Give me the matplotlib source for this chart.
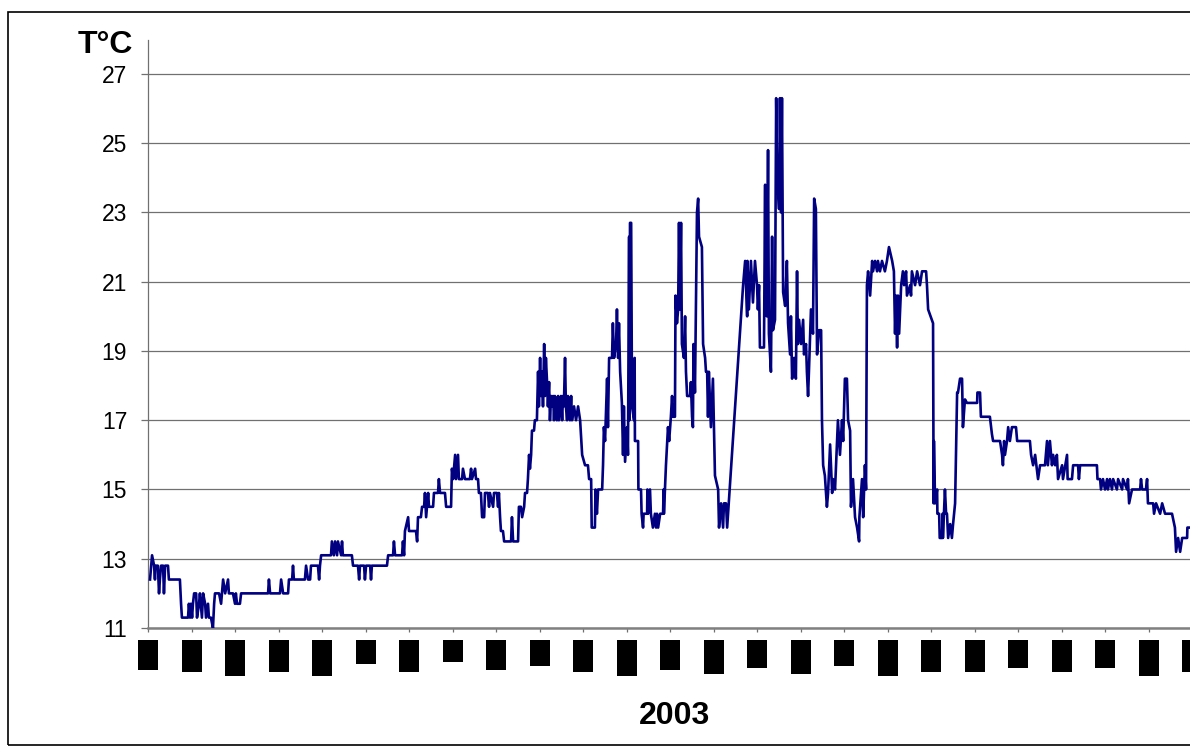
import matplotlib.pyplot as plt
from matplotlib.patches import Rectangle

plt.rcParams["font.family"] = ["Liberation Sans", "DejaVu Sans"]

# hourly-ish readings through 2003, x in days from the first tick
days = [
    0.7, 1.4, 2.1, 2.4, 2.6, 3.4, 3.8, 4.1, 4.5, 5.2,
    5.5, 5.9, 6.9, 7.2, 11.0, 11.4, 11.7, 13.8, 14.1, 14.5,
    14.8, 15.2, 15.5, 15.9, 16.6, 16.9, 17.6, 17.9, 18.6, 19.0,
    19.7, 20.0, 20.7, 21.0, 21.7, 22.4, 22.8, 23.1, 24.5, 25.2,
    25.5, 25.9, 26.6, 27.6, 27.9, 29.3, 30.0, 30.3, 30.7, 31.7,
    32.1, 41.4, 41.7, 42.1, 45.5, 45.9, 46.6, 48.3, 48.6, 49.7,
    50.0, 50.3, 54.1, 54.5, 55.2, 55.9, 56.2, 58.6, 59.0, 59.3,
    59.7, 63.1, 63.4, 64.1, 64.5, 65.2, 65.5, 66.6, 66.9, 67.2,
    70.3, 70.7, 72.4, 72.8, 73.1, 74.5, 74.8, 75.2, 76.6, 76.9,
    77.2, 82.4, 82.8, 84.5, 84.8, 85.2, 87.6, 87.9, 88.3, 88.6,
    89.7, 90.0, 92.4, 92.8, 93.1, 94.1, 94.5, 95.2, 95.5, 95.9,
    96.2, 96.6, 96.9, 98.3, 98.6, 100.0, 100.3, 100.7, 102.4, 102.8,
    104.5, 104.8, 105.2, 105.9, 106.2, 106.9, 107.2, 108.3, 108.6, 109.3,
    111.0, 111.4, 111.7, 112.8, 113.1, 113.8, 114.1, 114.8, 115.2, 115.9,
    116.2, 117.2, 117.6, 117.9, 119.0, 119.3, 120.3, 120.7, 121.0, 121.4,
    121.7, 122.4, 122.8, 125.2, 125.5, 125.9, 127.6, 127.9, 128.6, 129.0,
    129.7, 130.0, 130.7, 131.0, 131.4, 131.7, 132.1, 132.4, 133.1, 133.4,
    134.1, 134.5, 134.8, 135.2, 135.5, 135.9, 136.2, 136.6, 136.9, 137.2,
    137.6, 137.9, 138.3, 138.6, 139.0, 139.3, 139.7, 140.0, 140.3, 140.7,
    141.0, 141.4, 141.7, 142.1, 142.4, 142.8, 143.1, 143.4, 143.8, 144.1,
    144.5, 144.8, 145.2, 145.5, 145.9, 146.2, 146.9, 147.6, 148.3, 149.0,
    149.7, 150.7, 151.7, 152.1, 152.8, 153.0, 154.1, 154.3, 154.8, 155.2,
    156.6, 156.9, 157.2, 157.6, 158.3, 158.6, 159.0, 160.0, 160.3, 160.7,
    161.4, 161.7, 162.1, 162.4, 162.8, 163.4, 163.8, 164.1, 164.5, 165.2,
    165.5, 165.9, 166.0, 166.2, 166.6, 166.9, 167.6, 167.8, 167.9, 169.0,
    169.1, 170.0, 170.2, 170.7, 170.9, 172.1, 172.2, 172.4, 173.1, 173.4,
    174.1, 174.8, 175.2, 175.5, 175.9, 176.6, 177.6, 177.8, 177.9, 178.6,
    179.3, 179.7, 180.3, 180.7, 181.0, 181.7, 181.9, 182.4, 182.8, 183.1,
    183.4, 183.8, 184.1, 184.8, 185.2, 185.5, 185.9, 186.9, 187.2, 187.6,
    187.9, 188.1, 188.6, 189.3, 189.7, 190.0, 191.0, 191.4, 192.1, 192.4,
    192.8, 193.1, 193.4, 194.1, 194.8, 195.0, 195.5, 196.6, 196.9, 197.6,
    198.3, 198.6, 199.3, 199.7, 205.2, 205.9, 206.6, 206.7, 207.2, 207.9,
    208.6, 209.3, 210.0, 210.3, 210.7, 211.0, 212.4, 212.8, 212.9, 213.4,
    213.8, 214.1, 214.8, 215.2, 215.5, 216.2, 216.6, 216.9, 217.6, 217.9,
    218.3, 218.6, 219.0, 219.7, 220.3, 220.7, 221.4, 221.7, 222.1, 222.8,
    223.4, 223.8, 224.1, 224.5, 225.2, 225.9, 226.2, 226.9, 227.2, 227.6,
    227.9, 228.6, 229.3, 229.7, 230.3, 230.7, 231.4, 232.1, 232.4, 232.8,
    233.4, 234.1, 234.5, 235.2, 235.9, 236.2, 236.9, 237.6, 237.9, 238.6,
    239.3, 239.7, 240.3, 241.0, 241.4, 242.1, 242.4, 243.1, 243.8, 244.5,
    245.2, 245.3, 246.2, 246.6, 247.2, 247.6, 247.9, 248.3, 249.0, 249.7,
    250.0, 250.7, 251.4, 251.7, 252.4, 253.1, 254.1, 254.8, 255.5, 256.6,
    257.2, 257.6, 257.9, 258.3, 258.6, 259.0, 259.7, 260.3, 260.7, 261.4,
    261.7, 262.8, 263.1, 263.4, 264.5, 265.2, 266.2, 266.9, 268.3, 268.6,
    269.0, 270.7, 270.9, 271.0, 271.4, 272.1, 272.2, 272.8, 273.0, 273.8,
    274.0, 274.1, 274.8, 275.2, 275.5, 275.9, 276.6, 277.2, 277.6, 278.3,
    279.0, 279.3, 280.0, 280.7, 281.0, 281.7, 282.4, 285.9, 286.0, 286.9,
    287.2, 290.3, 291.0, 291.4, 293.8, 294.5, 294.8, 295.2, 295.5, 296.2,
    296.6, 297.2, 297.9, 299.3, 299.7, 304.1, 304.5, 305.2, 305.9, 306.9,
    307.6, 309.3, 310.0, 310.3, 311.0, 311.7, 312.1, 312.8, 313.4, 313.8,
    315.2, 315.5, 316.9, 317.1, 318.6, 319.0, 320.7, 321.0, 321.4, 327.2,
    327.4, 328.3, 328.6, 329.3, 330.0, 330.7, 331.0, 331.7, 332.4, 332.8,
    334.1, 334.5, 335.9, 336.2, 337.6, 337.9, 338.3, 339.3, 342.1, 342.4,
    342.8, 344.1, 344.5, 344.8, 346.6, 346.9, 347.6, 349.0, 349.7, 350.7,
    353.1, 354.1, 354.5, 355.2, 355.9, 356.6, 358.3, 358.4, 359.3,
]

temps = [
    12.4, 13.1, 12.8, 12.4, 12.8, 12.8, 12.0, 12.4, 12.8, 12.8,
    12.0, 12.8, 12.8, 12.4, 12.4, 11.7, 11.3, 11.3, 11.7, 11.3,
    11.7, 11.3, 11.7, 12.0, 12.0, 11.3, 11.7, 12.0, 11.3, 12.0,
    11.7, 11.3, 11.7, 11.3, 11.3, 11.0, 11.7, 12.0, 12.0, 11.7,
    12.0, 12.4, 12.0, 12.4, 12.0, 12.0, 11.7, 12.0, 11.7, 11.7,
    12.0, 12.0, 12.4, 12.0, 12.0, 12.4, 12.0, 12.0, 12.4, 12.4,
    12.8, 12.4, 12.4, 12.8, 12.4, 12.4, 12.8, 12.8, 12.4, 12.8,
    13.1, 13.1, 13.5, 13.1, 13.5, 13.1, 13.5, 13.1, 13.5, 13.1,
    13.1, 12.8, 12.8, 12.4, 12.8, 12.8, 12.4, 12.8, 12.8, 12.4,
    12.8, 12.8, 13.1, 13.1, 13.5, 13.1, 13.1, 13.5, 13.1, 13.8,
    14.2, 13.8, 13.8, 13.5, 14.2, 14.2, 14.5, 14.5, 14.9, 14.2,
    14.5, 14.9, 14.5, 14.5, 14.9, 14.9, 15.3, 14.9, 14.9, 14.5,
    14.5, 15.6, 15.3, 16.0, 15.3, 16.0, 15.3, 15.3, 15.6, 15.3,
    15.3, 15.6, 15.3, 15.6, 15.3, 15.3, 14.9, 14.9, 14.2, 14.2,
    14.9, 14.9, 14.5, 14.9, 14.5, 14.9, 14.9, 14.5, 14.9, 14.2,
    13.8, 13.8, 13.5, 13.5, 14.2, 13.5, 13.5, 14.5, 14.5, 14.2,
    14.5, 14.9, 14.9, 15.3, 16.0, 15.6, 16.0, 16.7, 16.7, 17.0,
    17.0, 18.4, 17.4, 18.8, 17.7, 18.4, 17.4, 19.2, 17.7, 18.8,
    18.1, 17.4, 18.1, 17.0, 17.7, 17.4, 17.7, 17.0, 17.7, 17.4,
    17.0, 17.7, 17.0, 17.4, 17.7, 17.0, 17.7, 17.4, 18.8, 17.4,
    17.0, 17.7, 17.4, 17.0, 17.7, 17.0, 17.4, 17.0, 17.4, 17.0,
    16.0, 15.7, 15.7, 15.3, 15.3, 13.9, 13.9, 15.0, 14.3, 15.0,
    15.0, 15.7, 16.8, 16.4, 18.2, 16.8, 18.8, 18.8, 19.8, 18.8,
    19.2, 20.2, 18.8, 19.8, 18.4, 17.5, 16.0, 17.4, 15.8, 16.8,
    16.0, 22.3, 17.0, 22.7, 22.7, 17.4, 17.0, 18.8, 16.4, 16.4,
    15.0, 15.0, 14.3, 13.9, 14.3, 14.3, 15.0, 14.3, 15.0, 14.3,
    13.9, 14.3, 13.9, 14.3, 13.9, 14.3, 14.3, 15.0, 14.3, 15.7,
    16.8, 16.4, 17.1, 17.7, 17.1, 17.1, 20.6, 19.8, 20.2, 22.7,
    20.2, 22.7, 19.2, 18.8, 20.0, 18.4, 17.7, 17.7, 18.1, 17.1,
    16.8, 19.2, 17.8, 23.0, 23.4, 22.3, 22.0, 19.2, 18.8, 18.4,
    18.4, 17.1, 18.4, 16.8, 18.2, 17.4, 15.4, 15.0, 13.9, 14.6,
    13.9, 14.6, 14.6, 13.9, 20.9, 21.6, 20.0, 21.6, 20.2, 21.6,
    20.4, 21.6, 20.9, 20.2, 20.9, 19.1, 19.1, 23.8, 20.3, 20.0,
    24.8, 19.5, 18.4, 22.3, 19.6, 19.9, 26.3, 24.2, 23.1, 26.3,
    23.0, 26.3, 20.7, 20.3, 21.6, 19.8, 18.9, 20.0, 18.2, 18.8,
    18.2, 21.3, 19.2, 19.9, 19.2, 19.9, 18.9, 19.2, 18.4, 17.7,
    18.4, 20.2, 19.5, 23.4, 23.1, 18.9, 19.6, 19.6, 17.0, 15.7,
    15.4, 14.5, 14.9, 16.3, 14.9, 15.3, 15.0, 16.4, 17.0, 16.0,
    17.0, 16.4, 18.2, 18.2, 17.0, 16.7, 14.5, 15.3, 14.2, 13.9,
    13.5, 14.2, 15.3, 14.2, 15.7, 15.0, 20.9, 21.3, 20.6, 21.6,
    21.3, 21.6, 21.3, 21.6, 21.3, 21.6, 21.3, 21.6, 22.0, 21.6,
    21.3, 19.5, 20.6, 19.1, 20.6, 19.5, 20.9, 21.3, 20.9, 21.3,
    20.6, 20.9, 20.6, 21.3, 20.9, 21.3, 20.9, 21.3, 21.3, 20.9,
    20.2, 19.8, 14.6, 16.4, 14.6, 15.0, 14.3, 14.3, 13.6, 13.6,
    14.3, 13.6, 15.0, 14.3, 14.3, 13.6, 14.0, 13.6, 14.0, 14.6,
    17.8, 17.8, 18.2, 18.2, 16.8, 17.6, 17.5, 17.5, 17.8, 17.8,
    17.1, 17.1, 16.6, 16.4, 16.4, 16.0, 15.7, 16.4, 16.0, 16.4,
    16.8, 16.4, 16.8, 16.8, 16.4, 16.4, 16.0, 15.7, 16.0, 15.3,
    15.7, 15.7, 16.4, 15.7, 16.4, 15.7, 16.0, 15.7, 16.0, 15.3,
    15.7, 15.3, 16.0, 15.3, 15.3, 15.7, 15.7, 15.3, 15.7, 15.7,
    15.3, 15.3, 15.0, 15.3, 15.0, 15.3, 15.0, 15.3, 15.0, 15.3,
    15.0, 15.3, 15.0, 15.3, 15.0, 15.3, 14.6, 15.0, 15.0, 15.3,
    15.0, 15.0, 15.3, 14.6, 14.6, 14.3, 14.6, 14.3, 14.6, 14.3,
    14.3, 13.9, 13.2, 13.6, 13.2, 13.6, 13.6, 13.9, 13.9,
]

# x ticks every 15 days; each tick carries an unreadable (blacked out) label
tick_days = list(range(0, 361, 15))
label_box_px = [30, 32, 36, 32, 36, 24, 32, 22, 30, 26, 32, 36, 30,
                34, 28, 34, 26, 36, 32, 32, 28, 32, 28, 36, 32]

assert len(days) == len(temps)

W, H = 1190, 753
fig = plt.figure(figsize=(W / 100, H / 100), dpi=100)

ax = fig.add_axes([148 / W, 1 - 628 / H, 1 - 148 / W, (628 - 40) / H])
ax.plot(days, temps, color="#000080", lw=1.9, zorder=3)

ax.set_xlim(0, 359.3)
ax.set_ylim(11, 27.98)
ax.set_yticks(range(11, 28, 2))
ax.set_xticks(tick_days[:-1])
ax.set_xticklabels([])
ax.yaxis.grid(True, color="#707070", lw=0.9)
ax.set_axisbelow(True)

for side in ("top", "right"):
    ax.spines[side].set_visible(False)
ax.spines["left"].set_color("#707070")
ax.spines["left"].set_linewidth(0.9)
ax.spines["bottom"].set_color("#808080")
ax.spines["bottom"].set_linewidth(1.8)

ax.tick_params(axis="y", length=5, width=0.9, color="#707070", pad=10,
               labelsize=16.5)
ax.tick_params(axis="x", length=3, width=0.9, color="#707070")

# black boxes where the date labels would be
lab = fig.add_axes([148 / W, 1 - 676 / H, 1 - 148 / W, 36 / H])
lab.set_xlim(ax.get_xlim())
lab.set_ylim(36, 0)
bars = lab.bar(tick_days, label_box_px, width=20 / 2.9, bottom=0,
               color="black", align="center")
for b in bars:
    b.set_clip_on(False)
lab.axis("off")

fig.text(133 / W, 1 - 53 / H, "T°C", ha="right", va="baseline",
         fontsize=23, fontweight="bold")
fig.text(675 / W, 1 - 724 / H, "2003", ha="center", va="baseline",
         fontsize=23, fontweight="bold")

fig.add_artist(Rectangle((8 / W, 1 - 745 / H), 1.0, (745 - 12) / H,
                         transform=fig.transFigure, fill=False,
                         edgecolor="black", lw=1.2))

fig.savefig("out.png", dpi=100)
